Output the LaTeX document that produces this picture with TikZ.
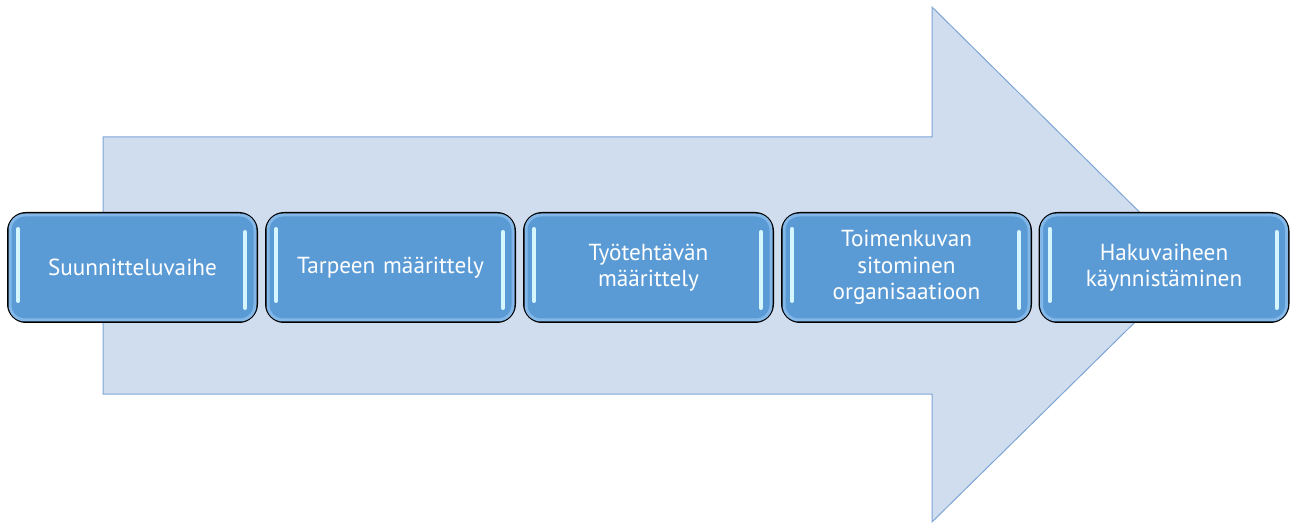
\documentclass[tikz,border=0pt]{standalone}
\usepackage{fontspec}
\setmainfont{PT Sans}
\usepackage{tikz}
\usetikzlibrary{calc}

\definecolor{arrowfill}{RGB}{208,221,239}
\definecolor{arrowline}{RGB}{125,165,214}
\definecolor{boxblue}{RGB}{91,155,213}
\definecolor{boxrim}{RGB}{130,183,231}
\definecolor{shine}{RGB}{214,246,255}

\begin{document}
\begin{tikzpicture}[x=1pt, y=-1pt, line width=1pt,
    stage/.style={rounded corners=18pt, draw=black, line width=2pt, fill=boxblue,
        minimum width=249pt, minimum height=109pt, text width=215pt, align=center,
        text=white, font=\fontsize{23.2}{26.5}\selectfont},
    rim/.style={rounded corners=15pt, draw=boxrim, line width=3pt},
    shine/.style={draw=shine, line width=4pt, line cap=round}]
        \useasboundingbox (0,0) rectangle (1293,529);
        % big background arrow
        \draw [fill=arrowfill, draw=arrowline] (103,137) -- (932,137) -- (932,7) -- (1193,265)
            -- (932,522) -- (932,394) -- (103,394) -- cycle;
        \node [stage] (one) at (132.5, 267.5) {Suunnitteluvaihe};
        \node [stage] (two) at (390.5, 267.5) {Tarpeen määrittely};
        \node [stage] (three) at (648.5, 267.5) {Työtehtävän\\määrittely};
        \node [stage] (four) at (906.5, 267.5) {Toimenkuvan\\sitominen\\organisaatioon};
        \node [stage] (five) at (1164, 267.5) {Hakuvaiheen\\käynnistäminen};
        \foreach \n in {one, two, three, four, five} {
            \draw [rim] ($(\n.north west)+(3,3)$) rectangle ($(\n.south east)+(-3,-3)$);
            \draw [shine] ($(\n.north west)+(11,17)$) -- ($(\n.south west)+(11,-22)$);
            \draw [shine] ($(\n.north east)+(-13,20)$) -- ($(\n.south east)+(-13,-15)$);
        }
    \end{tikzpicture}
\end{document}
